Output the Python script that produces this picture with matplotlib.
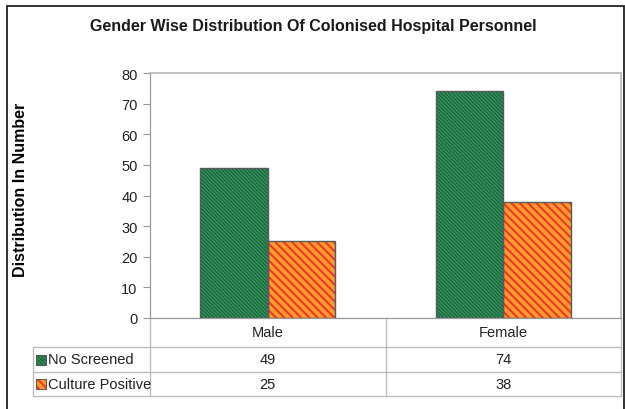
import matplotlib.pyplot as plt
from matplotlib.patches import Rectangle
import numpy as np

plt.rcParams['font.family'] = ['Liberation Sans', 'DejaVu Sans']

# --- données ---
categories = ['Male', 'Female']
series_names = ['No Screened', 'Culture Positive']
no_screened = [49, 74]
culture_positive = [25, 38]
y_ticks = [0, 10, 20, 30, 40, 50, 60, 70, 80]

# --- styles ---
face_colors = ['#33925c', '#ff9a2e']
hatch_colors = ['#1b5e3b', '#ec3a26']
hatches = ['\\' * 9, '\\' * 4]
hatch_lw = [0.8, 1.5]
edge_gray = '#5a5a5a'
grid_gray = '#b8b8b8'
txt = dict(fontsize=10.5, color='#222222')


def set_hlw(p, lw):
    if hasattr(p, 'set_hatch_linewidth'):
        p.set_hatch_linewidth(lw)


W, H = 625, 410
fig = plt.figure(figsize=(W / 100, H / 100), dpi=100)

# cadre extérieur
fig.patches.append(Rectangle((7 / W, -0.05), (624 - 7) / W, (H - 7) / H + 0.05,
                             transform=fig.transFigure, fill=False,
                             edgecolor='#222222', linewidth=1.3))

ax = fig.add_axes([150 / W, (H - 319) / H, 471 / W, 245 / H])

x = np.arange(len(categories))
bw = 0.286
values = [no_screened, culture_positive]
for i, vals in enumerate(values):
    pos = x + (i - 0.5) * bw
    with plt.rc_context({'hatch.linewidth': hatch_lw[i]}):
        bars = ax.bar(pos, vals, bw, color=face_colors[i], edgecolor=hatch_colors[i],
                      hatch=hatches[i], linewidth=0, zorder=2)
    for b in bars:
        set_hlw(b, hatch_lw[i])
    ax.bar(pos, vals, bw, fill=False, edgecolor=edge_gray, linewidth=1.0, zorder=3)

ax.set_xlim(-0.5, 1.5)
ax.set_ylim(0, 80)
ax.set_yticks(y_ticks)
ax.set_xticks([])
ax.tick_params(axis='y', length=5, width=0.8, color='#999999', labelsize=10.5,
               labelcolor='#222222', pad=4)
for s in ['top', 'right']:
    ax.spines[s].set_color(grid_gray)
    ax.spines[s].set_linewidth(1.2)
ax.spines['left'].set_color('#999999')
ax.spines['bottom'].set_color('#999999')
ax.spines['left'].set_linewidth(0.9)
ax.spines['bottom'].set_linewidth(0.9)

ax.set_ylabel('Distribution In Number', fontsize=11.5, fontweight='bold',
              labelpad=0)
ax.yaxis.set_label_coords(-0.259, 0.527)

fig.text(313 / W, 1 - 27 / H, 'Gender Wise Distribution Of Colonised Hospital Personnel',
         ha='center', va='center', fontsize=11.5, fontweight='bold', color='#1a1a1a')

# --- tableau de données sous l'axe ---
tr = ax.transAxes
px = 1 / 245.0
y_rows = [0, -29 * px, -54 * px, -78 * px]
x_left = (33 - 150) / 471.0
x_mid = 0.5
lc = '#bdbdbd'
lk = dict(transform=tr, clip_on=False, color=lc, linewidth=1.0)
ax.plot([0, 0], [0, y_rows[3]], **lk)
ax.plot([x_mid, x_mid], [0, y_rows[3]], **lk)
ax.plot([1, 1], [0, y_rows[3]], **lk)
ax.plot([x_left, x_left], [y_rows[1], y_rows[3]], **lk)
for yr in y_rows[1:]:
    ax.plot([x_left, 1], [yr, yr], **lk)

col_centers = [0.25, 0.75]
for j, cat in enumerate(categories):
    ax.text(col_centers[j], (y_rows[0] + y_rows[1]) / 2, cat, transform=tr,
            ha='center', va='center', **txt)
for i, name in enumerate(series_names):
    yc = (y_rows[i + 1] + y_rows[i + 2]) / 2
    sw = 10 / 471.0
    sh = 10 * px
    sx = x_left + 3 / 471.0
    with plt.rc_context({'hatch.linewidth': hatch_lw[i]}):
        sp = Rectangle((sx, yc - sh / 2), sw, sh, transform=tr, clip_on=False,
                       facecolor=face_colors[i], edgecolor=hatch_colors[i],
                       hatch=hatches[i], linewidth=0)
    set_hlw(sp, hatch_lw[i])
    ax.add_patch(sp)
    ax.add_patch(Rectangle((sx, yc - sh / 2), sw, sh, transform=tr, clip_on=False,
                           fill=False, edgecolor=edge_gray, linewidth=0.8))
    ax.text(sx + sw + 1.5 / 471.0, yc, name, transform=tr, ha='left', va='center', **txt)
    for j in range(len(categories)):
        ax.text(col_centers[j], yc, str(values[i][j]), transform=tr,
                ha='center', va='center', **txt)

fig.savefig('out.png', dpi=100)
